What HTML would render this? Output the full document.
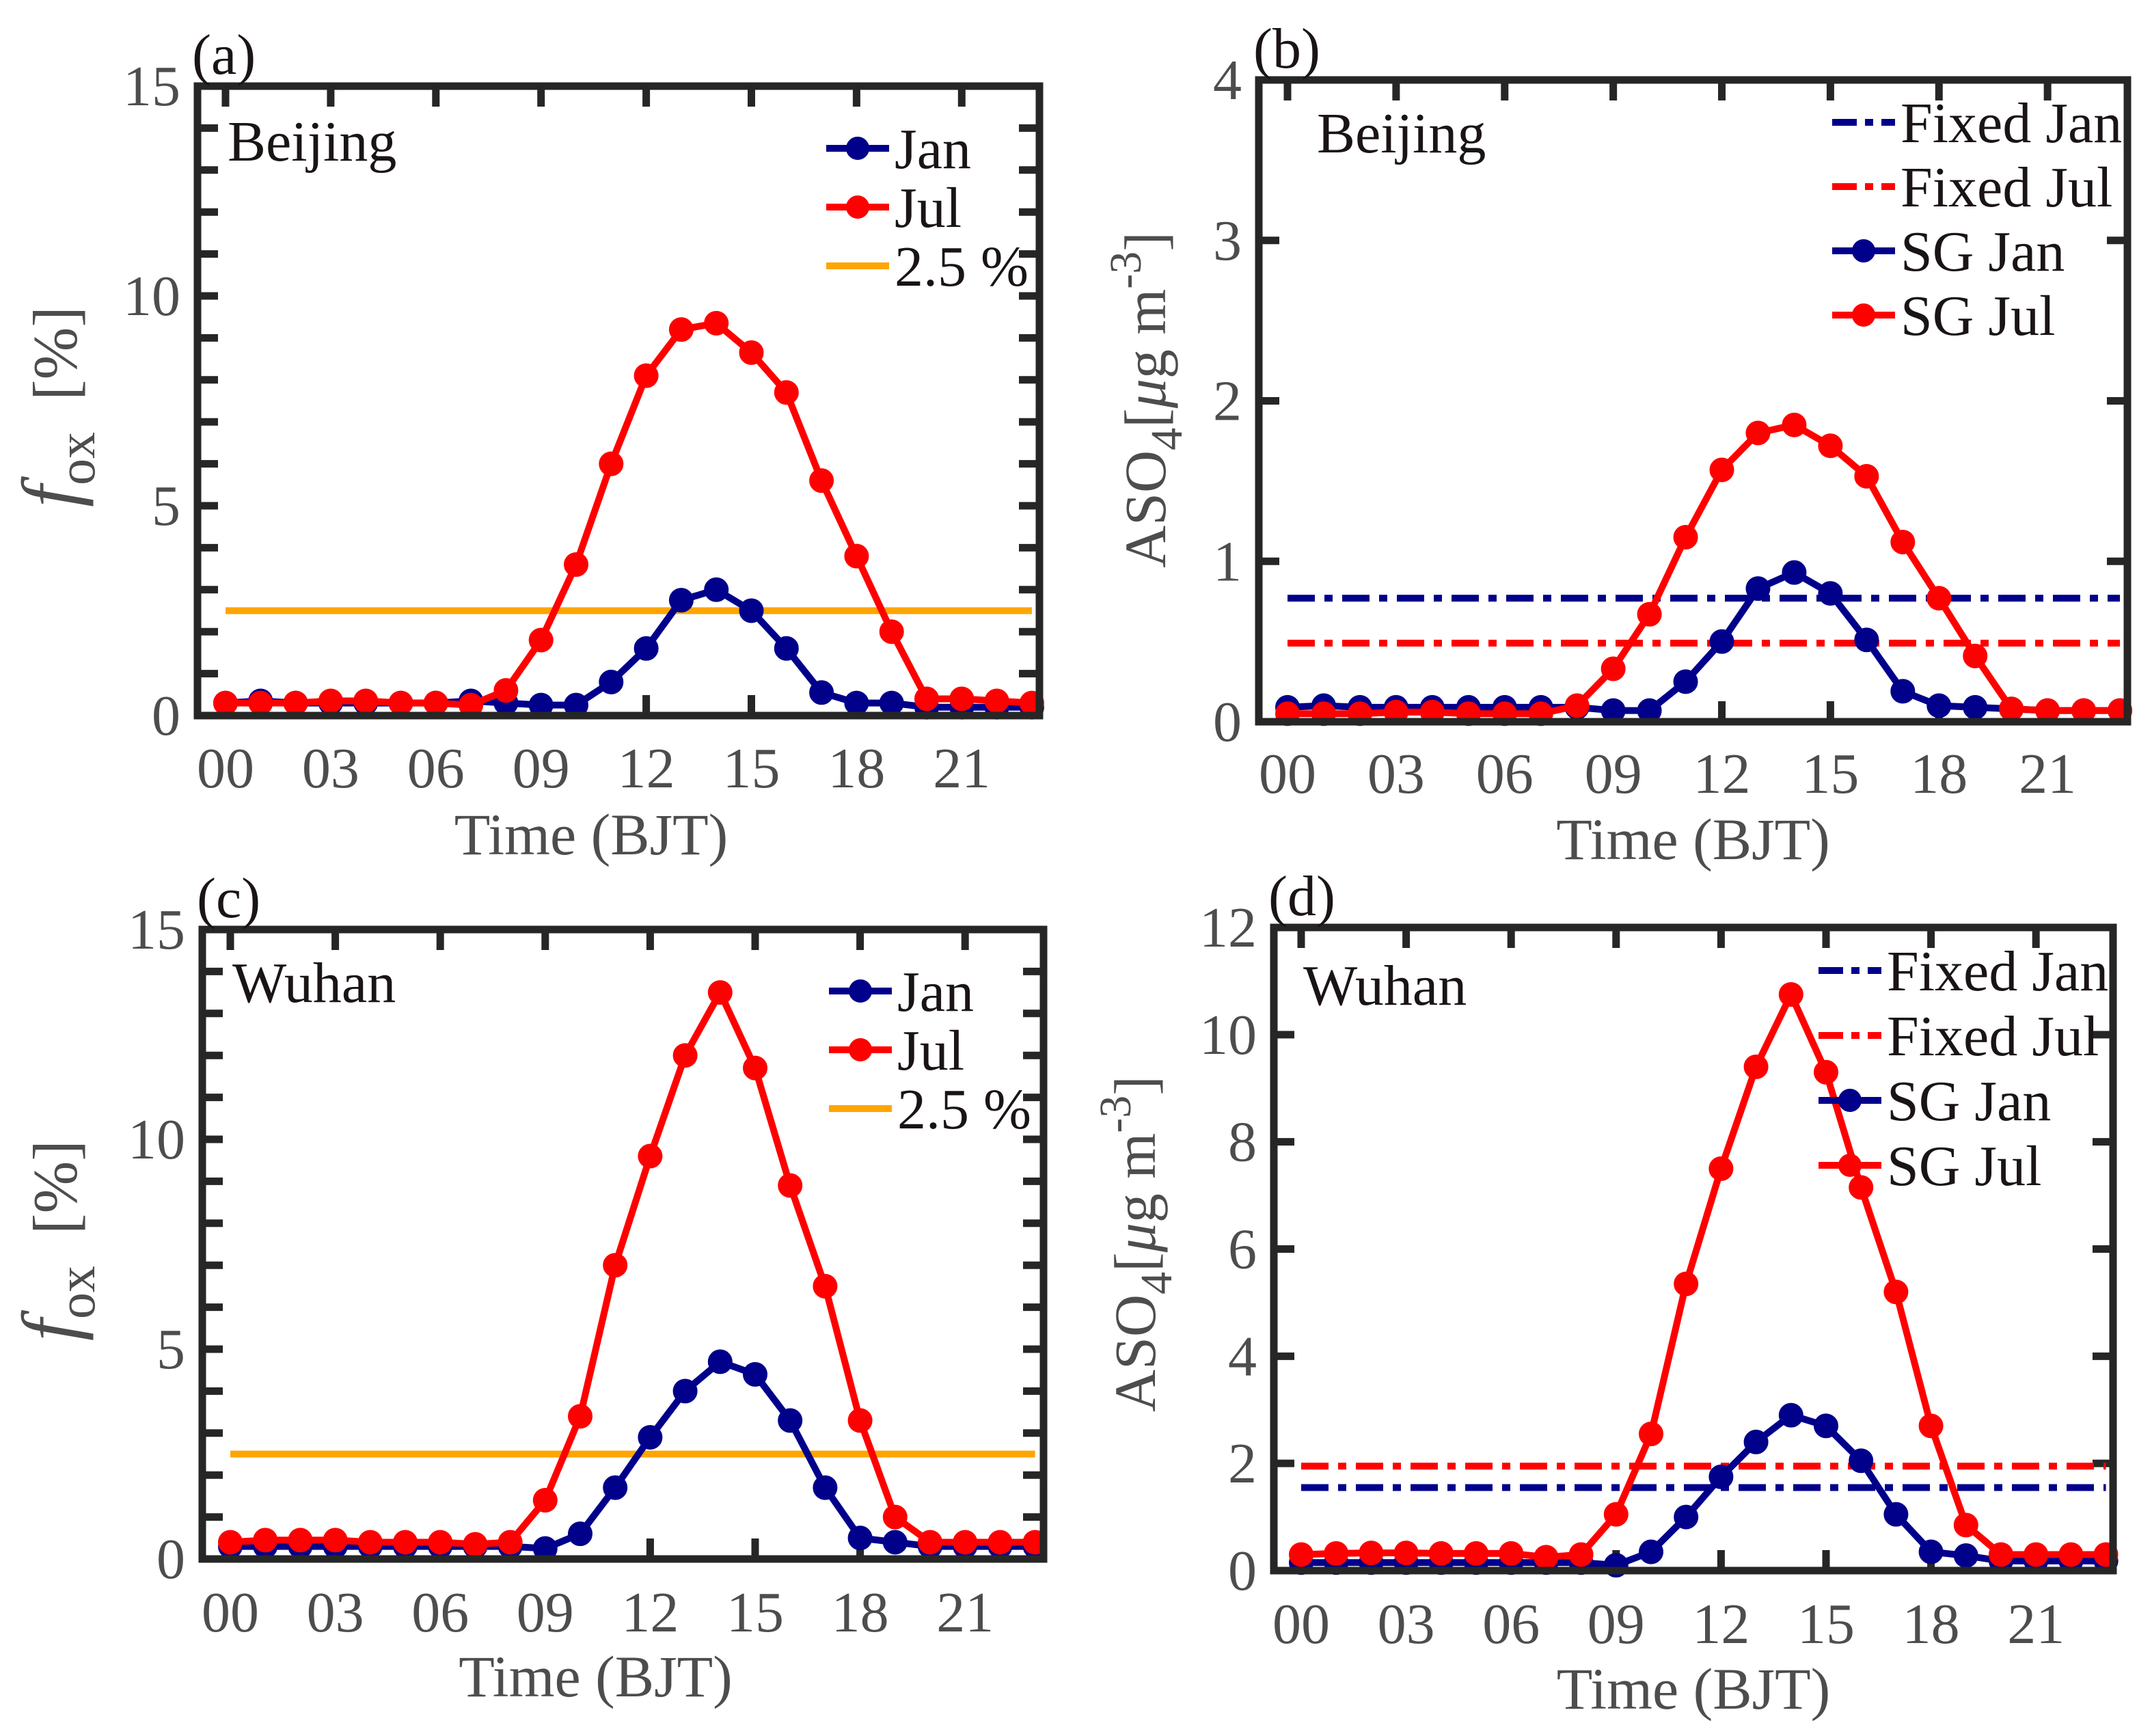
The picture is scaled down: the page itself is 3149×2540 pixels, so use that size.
<!DOCTYPE html>
<html><head><meta charset="utf-8"><style>
html,body{margin:0;padding:0;background:#fff;}
svg{display:block;font-family:"Liberation Serif",serif;}
</style></head><body>
<svg id="fig" width="3149" height="2540" viewBox="0 0 3149 2540" xmlns="http://www.w3.org/2000/svg"></svg>
<script>
const hours = [0,1,2,3,4,5,6,7,8,9,10,11,12,13,14,15,16,17,18,19,20,21,22,23];
const xTickHours = [0,3,6,9,12,15,18,21];
const xTickLabels = ["00","03","06","09","12","15","18","21"];
// Panel a (Beijing f_ox %)
const aJan = [0.3,0.35,0.3,0.3,0.3,0.3,0.3,0.35,0.3,0.25,0.25,0.8,1.6,2.75,3.0,2.5,1.6,0.55,0.3,0.3,0.2,0.2,0.2,0.2];
const aJul = [0.3,0.3,0.3,0.35,0.35,0.3,0.3,0.25,0.6,1.8,3.6,6.0,8.1,9.2,9.35,8.65,7.7,5.6,3.8,2.0,0.4,0.4,0.35,0.3];
const aRef = [2.5];
const aYTicks = [0,5,10,15];
// Panel b (Beijing ASO4)
const bJan = [0.09,0.1,0.09,0.09,0.09,0.09,0.09,0.09,0.09,0.07,0.07,0.25,0.5,0.83,0.93,0.8,0.51,0.19,0.1,0.09,0.08,0.07,0.07,0.07];
const bJul = [0.05,0.05,0.05,0.06,0.06,0.05,0.05,0.05,0.1,0.33,0.67,1.15,1.57,1.8,1.85,1.72,1.53,1.12,0.77,0.41,0.08,0.07,0.07,0.07];
const bFixed = [0.77,0.49];
const bYTicks = [0,1,2,3,4];
// Panel c (Wuhan f_ox %)
const cJan = [0.3,0.3,0.3,0.3,0.3,0.3,0.3,0.3,0.3,0.25,0.6,1.7,2.9,4.0,4.7,4.4,3.3,1.7,0.5,0.4,0.3,0.3,0.3,0.3];
const cJul = [0.4,0.45,0.45,0.45,0.4,0.4,0.4,0.35,0.4,1.4,3.4,7.0,9.6,12.0,13.5,11.7,8.9,6.5,3.3,1.0,0.4,0.4,0.4,0.4];
const cRef = [2.5];
const cYTicks = [0,5,10,15];
// Panel d (Wuhan ASO4)
const dJan = [0.15,0.15,0.15,0.15,0.15,0.15,0.15,0.15,0.15,0.1,0.35,1.0,1.75,2.4,2.9,2.7,2.05,1.05,0.35,0.28,0.18,0.18,0.18,0.18];
const dJul = [0.3,0.32,0.33,0.33,0.32,0.32,0.32,0.25,0.3,1.05,2.55,5.35,7.5,9.4,10.75,9.3,7.15,5.2,2.7,0.85,0.3,0.3,0.3,0.3];
const dFixed = [1.55,1.95];
const dYTicks = [0,2,4,6,8,10,12];

const NS="http://www.w3.org/2000/svg";
const svg=document.getElementById('fig');
function mk(tag,attrs,parent){const e=document.createElementNS(NS,tag);for(const k in attrs)e.setAttribute(k,attrs[k]);(parent||svg).appendChild(e);return e;}
const BLUE="#00008b",RED="#ff0000",ORANGE="#ffa500",FRAME="#262626",TICKC="#4d4d4d";

function panel(p){
  const g=mk('g',{});
  
  
  const X=h=>p.x0+(h)*(p.xs);
  const Y=v=>p.B-(v-p.ymin)/(p.ymax-p.ymin)*(p.B-p.T);
  for(let v=p.ymin; v<=p.ymax+1e-9; v+=p.minor){
    const y=Y(v);
    const t1=mk('line',{x1:p.L,x2:p.L+30,y1:y,y2:y,stroke:FRAME,'stroke-width':11},g);
    
    
    const t2=mk('line',{x1:p.R-30,x2:p.R,y1:y,y2:y,stroke:FRAME,'stroke-width':11},g);
    
    
  }
  xTickHours.forEach((h,i)=>{
    const x=X(h);
    const t1=mk('line',{x1:x,x2:x,y1:p.B,y2:p.B-30,stroke:FRAME,'stroke-width':11},g);
    
    
    const t2=mk('line',{x1:x,x2:x,y1:p.T,y2:p.T+30,stroke:FRAME,'stroke-width':11},g);
    
    
    const tl=mk('text',{x:x,y:p.xlabY,'text-anchor':'middle','font-size':84,fill:TICKC},g);
    
    
    tl.textContent=xTickLabels[i];
  });
  p.yticks.forEach(v=>{
    const tl=mk('text',{x:p.L-25,y:Y(v)+28,'text-anchor':'end','font-size':84,fill:TICKC},g);
    
    
    tl.textContent=String(v);
  });
  if(p.ref){
    const l=mk('line',{x1:X(0),x2:X(23),y1:Y(p.ref[0]),y2:Y(p.ref[0]),stroke:ORANGE,'stroke-width':10},g);
    
    
  }
  if(p.fixed){
    [[p.fixed[0],BLUE,'fixed-jan-line'],[p.fixed[1],RED,'fixed-jul-line']].forEach(f=>{
      const l=mk('line',{x1:X(0),x2:X(23),y1:Y(f[0]),y2:Y(f[0]),stroke:f[1],'stroke-width':10,'stroke-dasharray':'40 14 12 14'},g);
      
      
    });
  }
  [[p.jan,BLUE,'jan'],[p.jul,RED,'jul']].forEach(s=>{
    const pts=hours.map(h=>X(h)+','+Y(s[0][h])).join(' ');
    const pl=mk('polyline',{points:pts,fill:'none',stroke:s[1],'stroke-width':10,'stroke-linejoin':'round'},g);
    
    
    hours.forEach(h=>{
      const c=mk('circle',{cx:X(h),cy:Y(s[0][h]),r:14,fill:s[1],stroke:s[1],'stroke-width':8},g);
      
      
    });
  });
  const fr=mk('rect',{x:p.L,y:p.T,width:p.R-p.L,height:p.B-p.T,fill:'none',stroke:FRAME,'stroke-width':11},g);
  
  
  const pl=mk('text',{x:p.L-8,y:p.T-18,'font-size':84,fill:'#1a1414'},g);
  
  
  pl.textContent='('+p.id+')';
  const ct=mk('text',{x:p.cityX,y:p.cityY,'font-size':84,fill:'#1a1414'},g);
  
  
  ct.textContent=p.city;
  const xt=mk('text',{x:(p.L+p.R)/2+p.xtDx,y:p.xtY,'text-anchor':'middle','font-size':86,fill:TICKC},g);
  
  
  xt.textContent='Time (BJT)';
  const yt=mk('text',{x:0,y:0,'text-anchor':'middle','font-size':86,fill:TICKC,transform:'translate('+p.ytX+','+p.ytY+') rotate(-90)'},g);
  
  
  if(p.kind==='f'){
    yt.innerHTML='<tspan font-style="italic" font-size="115">f</tspan><tspan font-size="78" dy="26">ox</tspan><tspan dy="-26" font-size="92" xml:space="preserve">  [%]</tspan>';
  } else {
    yt.innerHTML='ASO<tspan font-size="66" dy="24">4</tspan><tspan dy="-24">[</tspan><tspan font-style="italic">μ</tspan>g m<tspan font-size="66" dy="-36">-3</tspan><tspan dy="36">]</tspan>';
  }
  p.legend.forEach((it,i)=>{
    const y=p.legY+i*p.legDy;
    const lg=mk('g',{},g);
    
    
    const attrs={x1:p.legX,x2:p.legX+92,y1:y,y2:y,stroke:it.c,'stroke-width':10};
    if(it.dash)attrs['stroke-dasharray']='36 12 12 12';
    mk('line',attrs,lg);
    if(it.marker)mk('circle',{cx:p.legX+46,cy:y,r:14,fill:it.c,stroke:it.c,'stroke-width':6},lg);
    const t=mk('text',{x:p.legX+100,y:y+29,'font-size':84,fill:'#1a1414'},lg);
    t.textContent=it.name;
  });
}

const fLeg=[{name:'Jan',c:BLUE,marker:1},{name:'Jul',c:RED,marker:1},{name:'2.5 %',c:ORANGE}];
const aLeg=[{name:'Fixed Jan',c:BLUE,dash:1},{name:'Fixed Jul',c:RED,dash:1},{name:'SG Jan',c:BLUE,marker:1},{name:'SG Jul',c:RED,marker:1}];

panel({id:'a',L:289,R:1521,T:126,B:1047,x0:330,xs:51.3,ymin:0,ymax:15,minor:1,yticks:aYTicks,jan:aJan,jul:aJul,ref:aRef,
  city:'Beijing',cityX:333,cityY:235,xlabY:1152,xtY:1250,xtDx:-40,ytX:112,ytY:595,kind:'f',legend:fLeg,legX:1209,legY:217,legDy:86});
panel({id:'b',L:1842,R:3113,T:117,B:1056,x0:1884,xs:52.96,ymin:0,ymax:4,minor:1,yticks:bYTicks,jan:bJan,jul:bJul,fixed:bFixed,
  city:'Beijing',cityX:1927,cityY:223,xlabY:1160,xtY:1257,xtDx:0,ytX:1705,ytY:585,kind:'a',legend:aLeg,legX:2681,legY:179,legDy:94});
panel({id:'c',L:296,R:1527,T:1360,B:2281,x0:337,xs:51.2,ymin:0,ymax:15,minor:1,yticks:cYTicks,jan:cJan,jul:cJul,ref:cRef,
  city:'Wuhan',cityX:340,cityY:1466,xlabY:2387,xtY:2482,xtDx:-40,ytX:112,ytY:1815,kind:'f',legend:fLeg,legX:1213,legY:1450,legDy:86});
panel({id:'d',L:1864,R:3092,T:1357,B:2298,x0:1904,xs:51.2,ymin:0,ymax:12,minor:2,yticks:dYTicks,jan:dJan,jul:dJul,fixed:dFixed,
  city:'Wuhan',cityX:1907,cityY:1470,xlabY:2404,xtY:2500,xtDx:0,ytX:1690,ytY:1820,kind:'a',legend:aLeg,legX:2661,legY:1420,legDy:95});
</script>
</body></html>
